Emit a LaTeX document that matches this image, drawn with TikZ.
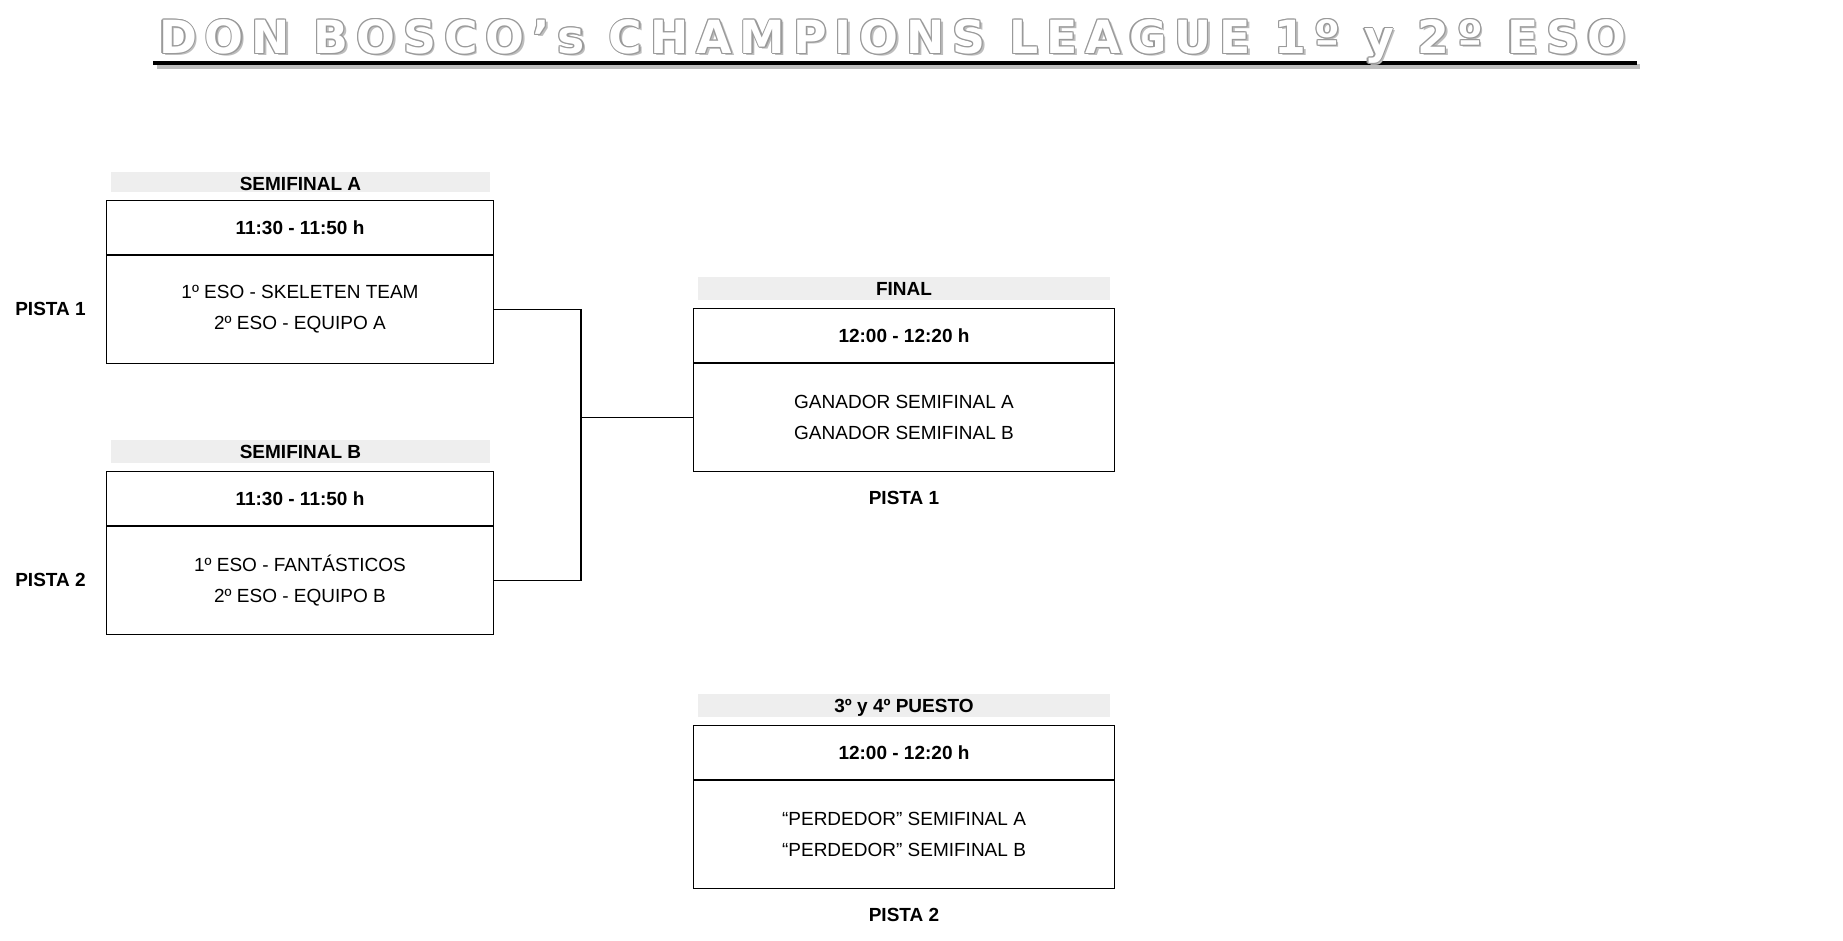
\documentclass[tikz,border=0pt]{standalone}
\usepackage{fontspec}
\setmainfont{Liberation Sans}
\newfontfamily\titlefont[LetterSpace=17.4]{DejaVu Sans}
\definecolor{hdrgray}{HTML}{EEEEEE}
\definecolor{outl}{HTML}{9A9A9A}
\definecolor{shad}{HTML}{BDBDBD}
\newcommand{\mytitle}{DON BOSCO’s CHAMPIONS LEAGUE 1º y 2º ESO}
\tikzset{
  hcell/.style={draw, line width=1.1pt, outer sep=0pt, minimum width=#1, minimum height=54.5pt, inner sep=0pt,
    text height=13.6pt, text depth=0pt, font=\bfseries\fontsize{19}{23}\selectfont},
  bcell/.style={draw, line width=1.1pt, outer sep=0pt, minimum width=#1, minimum height=108.5pt, inner sep=0pt,
    align=center, font=\fontsize{19}{31}\selectfont},
  hdr/.style={fill=hdrgray, outer sep=0pt, minimum width=#1, minimum height=22.7pt, inner sep=0pt,
    text height=13.6pt, text depth=0pt, font=\bfseries\fontsize{19}{23}\selectfont},
  pista/.style={inner sep=0pt, text height=13.6pt, text depth=0pt, font=\bfseries\fontsize{19}{23}\selectfont},
  ttl/.style={anchor=base, inner sep=0pt, font=\titlefont\bfseries\fontsize{45.7}{50}\selectfont},
  conn/.style={draw, line width=1.1pt}
}
\begin{document}
\begin{tikzpicture}[x=1pt,y=-1pt]
\useasboundingbox (0,0) rectangle (1843,941);
\fill[white] (0,0) rectangle (1843,941);
% title
\fill[shad] (156.7,64.5) rectangle (1640,69);
\fill[black] (152.7,60.7) rectangle (1637,64.6);
\node[ttl, text=shad] (tshadow) at (895,55.8) {\mytitle};
\foreach \a in {0,45,...,315}{
  \node[ttl, text=outl, shift={(\a:1.2)}] (tout\a) at (892.5,53.3) {\mytitle};
}
\node[ttl, text=white] (title) at (892.5,53.3) {\mytitle};
% semifinal A
\node[hdr=379pt, minimum height=20pt, text height=17.6pt] (aH) at (300.5,182) {SEMIFINAL A};
\node[hcell=387pt] (aT) at (300,227.75) {11:30 - 11:50 h};
\node[bcell=387pt, anchor=north] (aB) at (aT.south) {1º ESO - SKELETEN TEAM\\2º ESO - EQUIPO A};
\node[pista] (aP) at (50.5,308.75) {PISTA 1};
% semifinal B
\node[hdr=379pt] (bH) at (300.5,451.65) {SEMIFINAL B};
\node[hcell=387pt] (bT) at (300,498.75) {11:30 - 11:50 h};
\node[bcell=387pt, anchor=north] (bB) at (bT.south) {1º ESO - FANTÁSTICOS\\2º ESO - EQUIPO B};
\node[pista] (bP) at (50.5,580) {PISTA 2};
% final
\node[hdr=412pt] (fH) at (904,288.65) {FINAL};
\node[hcell=421pt] (fT) at (904,335.75) {12:00 - 12:20 h};
\node[bcell=421pt, anchor=north] (fB) at (fT.south) {GANADOR SEMIFINAL A\\GANADOR SEMIFINAL B};
\node[pista] (fP) at (904,497.7) {PISTA 1};
% third place
\node[hdr=412pt] (tH) at (904,705.65) {3º y 4º PUESTO};
\node[hcell=421pt] (tT) at (904,752.75) {12:00 - 12:20 h};
\node[bcell=421pt, anchor=north] (tB) at (tT.south) {“PERDEDOR” SEMIFINAL A\\“PERDEDOR” SEMIFINAL B};
\node[pista] (tP) at (904,915) {PISTA 2};
% connectors
\coordinate (j) at (581,417.25);
\draw[conn] (aB.east) -| (j);
\draw[conn] (bB.east) -| (j);
\draw[conn] (j) -- (j -| fB.west);
\end{tikzpicture}
\end{document}
